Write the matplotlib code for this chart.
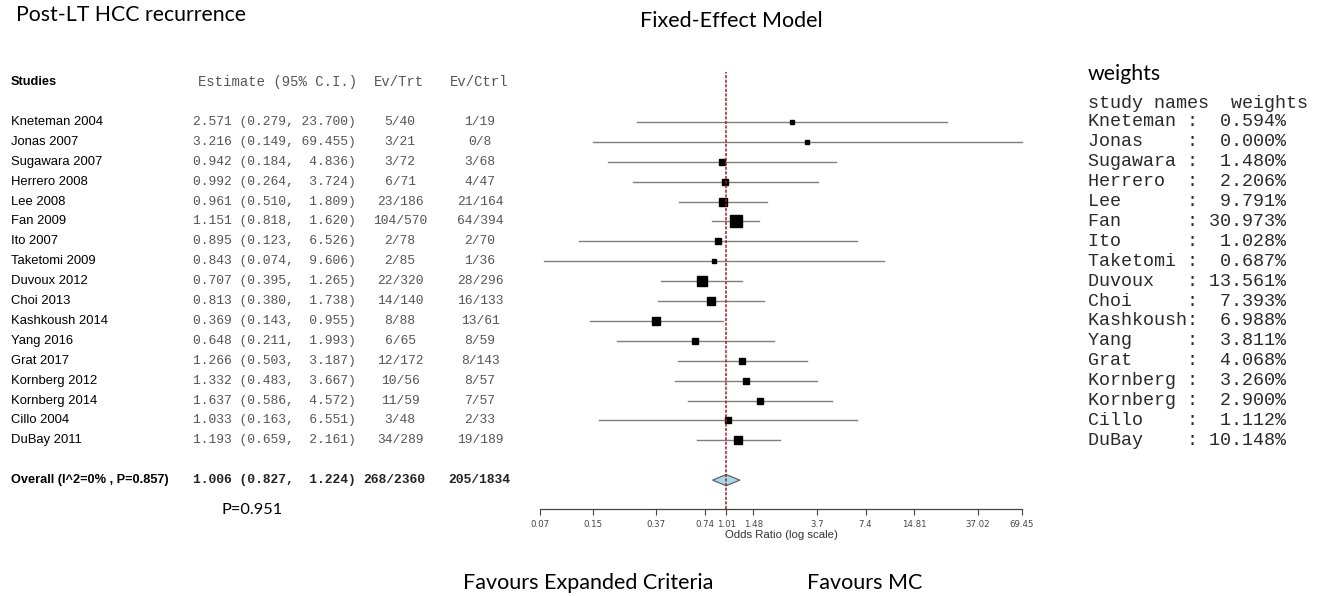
import numpy as np
import matplotlib
matplotlib.use("Agg")
import matplotlib.pyplot as plt
from matplotlib.patches import Polygon

# Study data
studies = ["Kneteman 2004", "Jonas 2007", "Sugawara 2007", "Herrero 2008", "Lee 2008",
           "Fan 2009", "Ito 2007", "Taketomi 2009", "Duvoux 2012", "Choi 2013",
           "Kashkoush 2014", "Yang 2016", "Grat 2017", "Kornberg 2012", "Kornberg 2014",
           "Cillo 2004", "DuBay 2011"]
estimate = [2.571, 3.216, 0.942, 0.992, 0.961, 1.151, 0.895, 0.843, 0.707, 0.813,
            0.369, 0.648, 1.266, 1.332, 1.637, 1.033, 1.193]
ci_low = [0.279, 0.149, 0.184, 0.264, 0.510, 0.818, 0.123, 0.074, 0.395, 0.380,
          0.143, 0.211, 0.503, 0.483, 0.586, 0.163, 0.659]
ci_high = [23.700, 69.455, 4.836, 3.724, 1.809, 1.620, 6.526, 9.606, 1.265, 1.738,
           0.955, 1.993, 3.187, 3.667, 4.572, 6.551, 2.161]
ev_trt = ["5/40", "3/21", "3/72", "6/71", "23/186", "104/570", "2/78", "2/85", "22/320",
          "14/140", "8/88", "6/65", "12/172", "10/56", "11/59", "3/48", "34/289"]
ev_ctrl = ["1/19", "0/8", "3/68", "4/47", "21/164", "64/394", "2/70", "1/36", "28/296",
           "16/133", "13/61", "8/59", "8/143", "8/57", "7/57", "2/33", "19/189"]
weight_names = ["Kneteman", "Jonas", "Sugawara", "Herrero", "Lee", "Fan", "Ito", "Taketomi",
                "Duvoux", "Choi", "Kashkoush", "Yang", "Grat", "Kornberg", "Kornberg",
                "Cillo", "DuBay"]
weights = [0.594, 0.000, 1.480, 2.206, 9.791, 30.973, 1.028, 0.687, 13.561, 7.393,
           6.988, 3.811, 4.068, 3.260, 2.900, 1.112, 10.148]

overall_label = "Overall (I^2=0% , P=0.857)"
overall_est, overall_lo, overall_hi = 1.006, 0.827, 1.224
overall_trt, overall_ctrl = "268/2360", "205/1834"

tick_vals = [0.07, 0.15, 0.37, 0.74, 1.01, 1.48, 3.7, 7.4, 14.81, 37.02, 69.45]
tick_labels = ["0.07", "0.15", "0.37", "0.74", "1.01", "1.48", "3.7", "7.4", "14.81", "37.02", "69.45"]

W, H = 1320, 596
fig = plt.figure(figsize=(W / 100, H / 100), dpi=100)

sans = ["Liberation Sans", "DejaVu Sans"]
mono = ["Liberation Mono", "DejaVu Sans Mono"]
cal = ["Lato", "DejaVu Sans"]

# shared vertical layout: rows in index units
bottom, top = 1 - 509 / H, 1 - 72 / H
ylim = (19.45, -2.51)
overall_row = 18
rows = np.arange(len(studies))

# text axes across whole width (x in pixels)
tax = fig.add_axes([0, bottom, 1, top - bottom])
tax.set_xlim(0, W)
tax.set_ylim(*ylim)
tax.axis("off")

gray = "#555555"
tax.text(11, -2, "Studies", fontsize=9.2, fontweight="bold", family=sans, va="center")
tax.text(357, -2, "Estimate (95% C.I.)", fontsize=10, family=mono, color=gray, va="center", ha="right")
tax.text(399, -2, "Ev/Trt", fontsize=10, family=mono, color=gray, va="center", ha="center")
tax.text(479, -2, "Ev/Ctrl", fontsize=10, family=mono, color=gray, va="center", ha="center")

for i, name in enumerate(studies):
    tax.text(11, i, name, fontsize=9.4, family=sans, va="center")
    tax.text(356, i, f"{estimate[i]:.3f} ({ci_low[i]:.3f}, {ci_high[i]:6.3f})",
             fontsize=9.4, family=mono, color=gray, va="center", ha="right")
    tax.text(400, i, ev_trt[i], fontsize=9.4, family=mono, color=gray, va="center", ha="center")
    tax.text(480, i, ev_ctrl[i], fontsize=9.4, family=mono, color=gray, va="center", ha="center")

tax.text(11, overall_row, overall_label, fontsize=9.2, fontweight="bold", family=sans, va="center")
tax.text(356, overall_row, f"{overall_est:.3f} ({overall_lo:.3f}, {overall_hi:6.3f})",
         fontsize=9.4, family=mono, fontweight="bold", color="#222222", va="center", ha="right")
tax.text(394, overall_row, overall_trt, fontsize=9.4, family=mono, fontweight="bold",
         color="#222222", va="center", ha="center")
tax.text(479, overall_row, overall_ctrl, fontsize=9.4, family=mono, fontweight="bold",
         color="#222222", va="center", ha="center")

# weights table
tax.text(1088, -0.95, "study names  weights", fontsize=13.2, family=mono, color="#2a2a2a", va="center")
for i, nm in enumerate(weight_names):
    tax.text(1088, i, f"{nm:<9}:{weights[i]:7.3f}%", fontsize=13.2, family=mono,
             color="#2a2a2a", va="center")

# forest axes
ax = fig.add_axes([540 / W, bottom, (1022 - 540) / W, top - bottom], facecolor="none")
ax.set_xscale("log")
ax.set_xlim(tick_vals[0], tick_vals[-1])
ax.set_ylim(*ylim)

wmax = max(weights)
for i in rows:
    ax.plot([ci_low[i], ci_high[i]], [i, i], color="#7f7f7f", lw=1.0, clip_on=False, zorder=2)
    side_px = 3.6 + 8.4 * np.sqrt(weights[i] / wmax)
    ax.plot(estimate[i], i, marker="s", color="black", markersize=side_px * 0.72,
            linestyle="none", zorder=4)

dh = 0.28
diamond = Polygon([[overall_lo, overall_row], [overall_est, overall_row - dh],
                   [overall_hi, overall_row], [overall_est, overall_row + dh]],
                  closed=True, facecolor="#a6d8e8", edgecolor="#555555", lw=0.8, zorder=3)
ax.add_patch(diamond)
ax.axvline(overall_est, color="#a02020", lw=1.1, linestyle=(0, (2, 1)), zorder=5)

for s in ["top", "left", "right"]:
    ax.spines[s].set_visible(False)
ax.spines["bottom"].set_color("#444444")
ax.spines["bottom"].set_linewidth(0.9)
ax.set_yticks([])
ax.xaxis.set_minor_locator(matplotlib.ticker.NullLocator())
ax.set_xticks(tick_vals)
ax.set_xticklabels(tick_labels)
ax.tick_params(axis="x", length=4, width=0.8, colors="#444444", labelsize=6.2, pad=4)
ax.set_xlabel("Odds Ratio (log scale)", fontsize=8.2, family=sans, color="#333333", labelpad=1)

# titles and annotations
fig.text(16 / W, 1 - 21 / H, "Post-LT HCC recurrence", fontsize=15.3, family=cal, va="baseline")
fig.text(731 / W, 1 - 27 / H, "Fixed-Effect Model", fontsize=15.5, family=cal, va="baseline", ha="center")
fig.text(1088 / W, 1 - 80 / H, "weights", fontsize=15.3, family=cal, va="baseline")
fig.text(252 / W, 1 - 514 / H, "P=0.951", fontsize=11.8, family=cal, va="baseline", ha="center")
fig.text(463 / W, 1 - 589 / H, "Favours Expanded Criteria", fontsize=15.5, family=cal, va="baseline")
fig.text(807 / W, 1 - 589 / H, "Favours MC", fontsize=15.5, family=cal, va="baseline")

fig.savefig("out.png", dpi=100)
